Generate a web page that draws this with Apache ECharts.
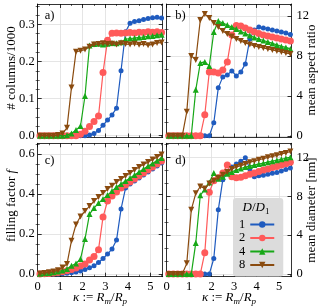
<!DOCTYPE html>
<html><head><meta charset="utf-8">
<script src="https://cdn.jsdelivr.net/npm/echarts@6/dist/echarts.min.js"></script>
<style>html,body{margin:0;padding:0;background:#fff}#c{width:323px;height:307px}</style>
</head><body><div id="c"></div>
<script>
// ---- data ----
const kappa = [0.1,0.3,0.5,0.7,0.9,1.1,1.3,1.5,1.7,1.9,2.1,2.3,2.5,2.7,2.9,3.1,3.3,3.5,3.7,3.9,4.1,4.3,4.5,4.7,4.9,5.1,5.3,5.5];
const seriesNames = ['1','2','4','8'];

const columns_D1 = [0,0,0,0,0,0,0,0,0,0,0,0.002,0.006,0.014,0.028,0.042,0.056,0.074,0.175,0.28,0.303,0.308,0.31,0.313,0.316,0.318,0.319,0.317];
const columns_D2 = [0,0,0,0,0,0,0,0,0,0.004,0.012,0.025,0.038,0.053,0.17,0.257,0.276,0.277,0.276,0.277,0.278,0.277,0.279,0.278,0.28,0.279,0.28,0.278];
const columns_D4 = [0,0,0,0,0,0,0.001,0.006,0.015,0.026,0.107,0.243,0.247,0.248,0.246,0.248,0.25,0.249,0.252,0.26,0.262,0.263,0.265,0.266,0.268,0.269,0.271,0.272];
const columns_D8 = [0,0,0,0,0.002,0.006,0.021,0.13,0.226,0.229,0.232,0.24,0.246,0.247,0.249,0.247,0.248,0.246,0.249,0.247,0.246,0.248,0.245,0.247,0.244,0.246,0.25,0.251];

const aspect_D1 = [0,0,0,0,0,0,0,0,0,0,1.3,4.8,5.9,6.1,6.5,6.0,6.4,7.2,9.7,10.6,10.9,10.8,10.7,10.6,10.5,10.4,10.3,10.15];
const aspect_D2 = [0,0,0,0,0,0,0,0,2.1,6.4,6.4,6.3,6.6,7.4,10.1,11.05,11.0,10.8,10.6,10.4,10.25,10.1,10.0,9.9,9.8,9.7,9.6,9.5];
const aspect_D4 = [0,0,0,0,0,0,4.6,7.3,7.4,7.0,10.4,11.5,11.3,11.1,10.9,10.7,10.45,10.25,10.05,9.85,9.7,9.55,9.4,9.25,9.1,8.95,8.85,8.7];
const aspect_D8 = [0,0,0,0,2.4,8.0,7.6,11.6,12.2,11.8,11.3,10.9,10.5,10.2,9.95,9.7,9.5,9.3,9.15,9.0,8.9,8.8,8.7,8.6,8.5,8.4,8.3,8.2];

const filling_D1 = [0,0,0,0.001,0.001,0.002,0.004,0.007,0.011,0.016,0.023,0.032,0.042,0.058,0.078,0.1,0.126,0.17,0.325,0.43,0.45,0.465,0.48,0.495,0.51,0.525,0.54,0.555];
const filling_D2 = [0.001,0.002,0.003,0.005,0.008,0.012,0.017,0.023,0.031,0.04,0.05,0.07,0.088,0.122,0.285,0.365,0.39,0.41,0.43,0.445,0.46,0.475,0.49,0.505,0.52,0.535,0.55,0.565];
const filling_D4 = [0.002,0.004,0.006,0.009,0.013,0.018,0.025,0.042,0.053,0.075,0.175,0.3,0.33,0.355,0.375,0.395,0.415,0.435,0.45,0.465,0.48,0.495,0.51,0.525,0.54,0.553,0.567,0.58];
const filling_D8 = [0.003,0.006,0.009,0.013,0.019,0.033,0.05,0.167,0.248,0.288,0.315,0.34,0.365,0.385,0.405,0.425,0.442,0.46,0.475,0.49,0.505,0.52,0.535,0.548,0.56,0.573,0.585,0.598];

const diameter_D1 = [0,0,0,0,0,0,0,0,0,0,1.6,6.6,9.7,10.4,11.0,11.3,11.6,11.95,10.8,10.0,10.1,10.15,10.25,10.35,10.45,10.6,10.75,10.9];
const diameter_D2 = [0,0,0,0,0,0,0,0,2.2,8.4,9.6,9.9,10.4,11.2,10.0,9.9,9.95,10.1,10.25,10.4,10.55,10.7,10.8,10.95,11.05,11.2,11.35,11.5];
const diameter_D4 = [0,0,0,0,0,0,3.2,8.1,8.7,9.4,10.4,9.8,10.0,10.3,10.5,10.7,10.85,11.0,11.1,11.2,11.3,11.4,11.5,11.6,11.7,11.8,11.9,12.0];
const diameter_D8 = [0,0,0,0,1.1,6.6,8.3,9.0,8.8,9.3,9.6,9.9,10.2,10.5,10.8,11.0,11.15,11.3,11.5,11.6,11.75,11.85,12.0,12.1,12.2,12.35,12.45,12.6];

const xTicks = [0,1,2,3,4,5];
const yTicksColumns = [0,0.1,0.2,0.3];
const yTicksAspect = [0,4,8,12];
const yTicksFilling = [0,0.2,0.4,0.6];
const yTicksDiameter = [0,4,8,12];

// ---- styling ----
const FONT = 'Liberation Serif';
const colors = ['#1f5bbf','#ff5a5a','#18a818','#8a4b0f'];
const symbols = ['circle','circle','triangle','path://M0,0L2,0L1,1.732Z'];
const symSizes = [5,7,6,6];

const panels = [
  {grid:{left:37.7, top:4, width:125, height:133.5}, yMin:-0.005, yMax:0.355, majors:yTicksColumns, minorStep:0.025, side:'left', fmt:v=>v.toFixed(1), xLabels:false, data:[columns_D1,columns_D2,columns_D4,columns_D8]},
  {grid:{left:166.5, top:4, width:125, height:133.5}, yMin:-0.17, yMax:13.2, majors:yTicksAspect, minorStep:4/3, side:'right', fmt:v=>String(v), xLabels:false, data:[aspect_D1,aspect_D2,aspect_D4,aspect_D8]},
  {grid:{left:37.7, top:143.3, width:125, height:133.4}, yMin:-0.013, yMax:0.654, majors:yTicksFilling, minorStep:0.05, side:'left', fmt:v=>v.toFixed(1), xLabels:true, data:[filling_D1,filling_D2,filling_D4,filling_D8]},
  {grid:{left:166.5, top:143.3, width:125, height:133.4}, yMin:-0.27, yMax:13.44, majors:yTicksDiameter, minorStep:4/3, side:'right', fmt:v=>String(v), xLabels:true, data:[diameter_D1,diameter_D2,diameter_D4,diameter_D8]}
];

const black = {color:'#000', width:0.8};
const grids = [], xAxes = [], yAxes = [], series = [];
panels.forEach((p, i) => {
  grids.push(Object.assign({containLabel:false}, p.grid));
  const minors = [];
  for (let v = p.minorStep; v < p.yMax; v += p.minorStep) {
    const r = Math.round(v*1e6)/1e6;
    if (!p.majors.some(m => Math.abs(m - r) < 1e-6)) minors.push(r);
  }
  ['bottom','top'].forEach(pos => {
    xAxes.push({type:'value', gridIndex:i, position:pos, min:0, max:5.55,
      axisLine:{show:true, onZero:false, lineStyle:black},
      axisTick:{show:true, inside:true, length:4, lineStyle:black, customValues:xTicks},
      minorTick:{show:true, splitNumber:2, length:2, lineStyle:{color:'#000', width:0.6}},
      axisLabel:{show:pos==='bottom' && p.xLabels, customValues:xTicks, margin:4, fontFamily:FONT, fontSize:12.5, color:'#000'},
      splitLine:{show:pos==='bottom', lineStyle:{color:'#dedede', width:0.8}}});
  });
  ['left','right'].forEach(pos => {
    yAxes.push({type:'value', gridIndex:i, position:pos, min:p.yMin, max:p.yMax,
      axisLine:{show:true, onZero:false, lineStyle:black},
      axisTick:{show:true, inside:true, length:4, lineStyle:black, customValues:p.majors},
      axisLabel:{show:pos===p.side, customValues:p.majors, formatter:p.fmt, margin:pos==='left'?3:5, fontFamily:FONT, fontSize:12.5, color:'#000'},
      splitLine:{show:pos==='left', lineStyle:{color:'#dedede', width:0.8}}});
  });
  ['left','right'].forEach(pos => {
    yAxes.push({type:'value', gridIndex:i, position:pos, min:p.yMin, max:p.yMax,
      axisLine:{show:false},
      axisTick:{show:true, inside:true, length:2, lineStyle:{color:'#000', width:0.6}, customValues:minors},
      axisLabel:{show:false}, splitLine:{show:false}});
  });
  p.data.forEach((arr, s) => {
    series.push({type:'line', name:seriesNames[s], xAxisIndex:2*i, yAxisIndex:4*i,
      data: kappa.map((x, k) => [x, arr[k]]),
      symbol:symbols[s], symbolSize:symSizes[s], showAllSymbol:true,
      lineStyle:{color:colors[s], width:1.2}, itemStyle:{color:colors[s]},
      z: 2 + s, clip:false});
  });
});

const rich = {
  n:{fontFamily:FONT, fontSize:13, color:'#000'},
  i:{fontFamily:FONT, fontSize:13, fontStyle:'italic', color:'#000'},
  s:{fontFamily:FONT, fontSize:9, fontStyle:'italic', color:'#000', padding:[7,0,0,0]},
  sn:{fontFamily:FONT, fontSize:9, color:'#000', padding:[7,0,0,0]},
  ti:{fontFamily:FONT, fontSize:13, fontStyle:'italic', color:'#000'},
  tn:{fontFamily:FONT, fontSize:13, color:'#000'},
  p:{fontFamily:FONT, fontSize:12.5, color:'#000'}
};
function txt(x, y, text, rot) {
  return {type:'text', x:x, y:y, rotation:rot||0, z:100,
    style:{text:text, rich:rich, fontFamily:FONT, fontSize:12, fill:'#000', align:'center', verticalAlign:'middle'}};
}
const graphics = [
  txt(12, 68, '{n|# columns/1000}', Math.PI/2),
  txt(12, 206, '{n|filling factor }{i|f}', Math.PI/2),
  txt(312, 70, '{n|mean aspect ratio}', Math.PI/2),
  txt(312, 210, '{n|mean diameter [nm]}', Math.PI/2),
  txt(100, 298, '{i|κ}{n| := }{i|R}{s|m}{n|/}{i|R}{s|p}', 0),
  txt(229, 298, '{i|κ}{n| := }{i|R}{s|m}{n|/}{i|R}{s|p}', 0),
  txt(49.5, 16, '{p|a)}', 0),
  txt(180.5, 16, '{p|b)}', 0),
  txt(49.5, 161, '{p|c)}', 0),
  txt(180.5, 161, '{p|d)}', 0),
  txt(256, 208, '{ti|D}{tn|/}{ti|D}{sn|1}', 0)
];

const chart = echarts.init(document.getElementById('c'), null, {renderer:'canvas'});
chart.setOption({
  animation:false,
  backgroundColor:'#fff',
  grid:grids, xAxis:xAxes, yAxis:yAxes, series:series,
  legend:{data:seriesNames, orient:'vertical', left:233, top:198, padding:[20,8,5,6],
    itemGap:0.5, itemWidth:24, itemHeight:8, align:'right', backgroundColor:'#dcdcdc', borderRadius:3,
    textStyle:{fontFamily:FONT, fontSize:12.5, color:'#000', lineHeight:12}, z:10},
  graphic:graphics
});
</script></body></html>
